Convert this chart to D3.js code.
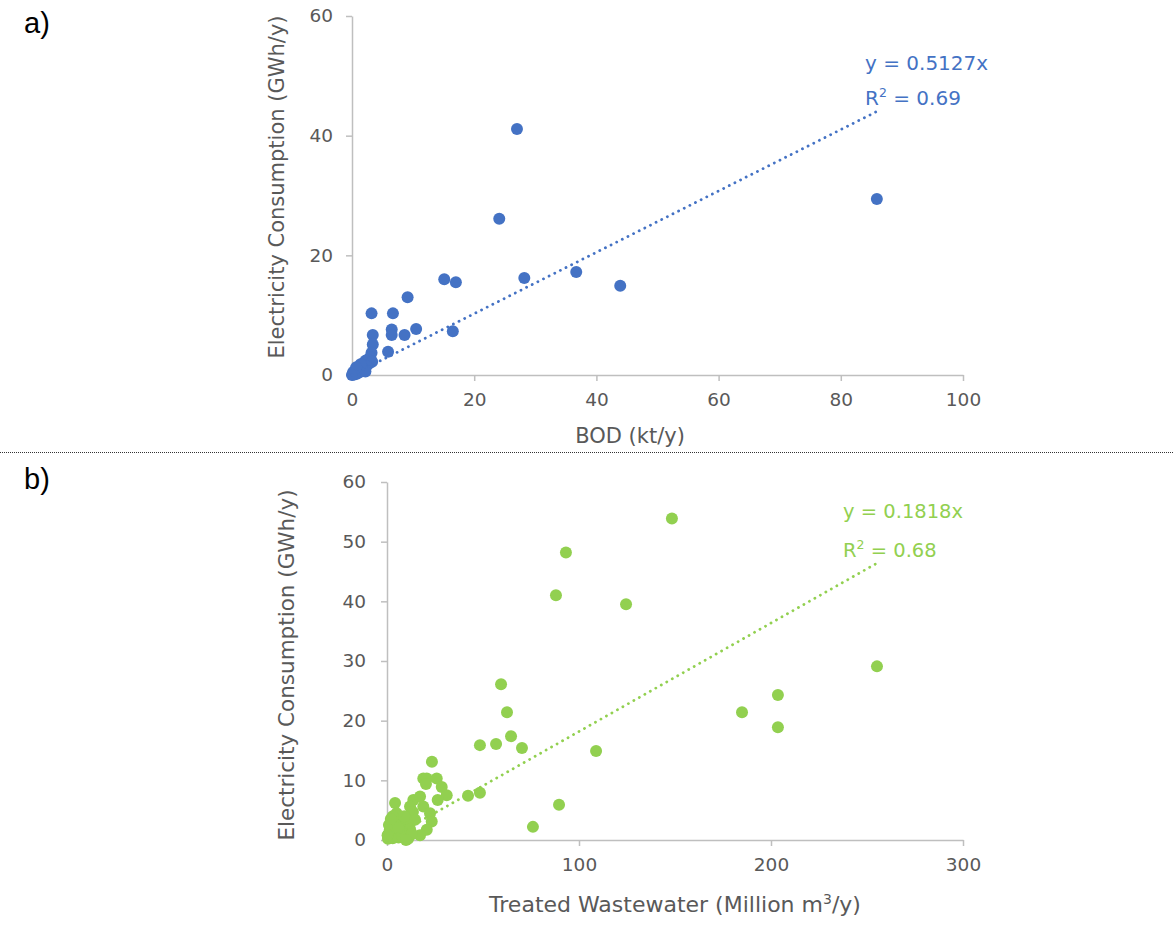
<!DOCTYPE html>
<html><head><meta charset="utf-8">
<script src="https://cdn.jsdelivr.net/npm/d3@7"></script>
<style>
html,body{margin:0;padding:0;background:#fff;}
svg{display:block;font-family:"DejaVu Sans",sans-serif;}
</style></head>
<body>
<script>
// ---- Panel a data: BOD (kt/y) vs Electricity Consumption (GWh/y)
const bodX = [27.0,85.9,24.1,15.1,17.0,28.2,36.7,43.9,9.1,3.2,6.7,10.5,6.5,6.5,8.6,16.5,3.4,3.4,5.9,3.2,
  3.0,2.6,2.2,1.9,2.8,3.3,2.4,1.6,2.0,1.2,1.5,0.9,0.6,0.5,0.3,0.1,0.2,0.8,1.1,0.4,2.2,1.4,0.7,0.0];
const bodY = [41.1,29.4,26.1,16.0,15.5,16.2,17.2,14.9,13.0,10.3,10.3,7.7,7.6,6.7,6.7,7.3,6.7,5.1,3.9,3.7,
  3.0,2.6,2.4,2.0,1.9,2.2,1.5,1.4,0.9,1.0,0.6,0.7,0.9,0.4,0.2,0.1,0.5,0.2,0.4,0.1,0.6,1.8,1.3,0.0];
const bodSlope = 0.5127, bodR2 = "0.69";
const bodXTicks = [0,20,40,60,80,100];
const bodYTicks = [0,20,40,60];

// ---- Panel b data: Treated Wastewater (Million m3/y) vs Electricity Consumption (GWh/y)
const wwX = [148.4,93.2,88.0,124.5,255.2,59.4,203.6,184.9,62.5,203.6,64.6,70.3,108.9,48.4,56.8,23.4,48.4,42.2,89.6,76.0,
  18.9,20.7,25.9,20.3,28.5,31.1,26.4,4.2,13.7,17.2,12.0,18.9,22.4,23.3,20.7,17.2,13.5,14.6,12.0,11.0,
  0.5,1,2,3,4,5,6,7,8,9,10,2.5,1.5,0.8,3.5,4.5,6,8,10,11,12,9,5,1,0.3,7,3,13,6,2,9.9];
const wwY = [53.9,48.2,41.0,39.5,29.1,26.1,24.3,21.4,21.4,18.9,17.4,15.4,14.9,15.9,16.1,13.1,7.9,7.4,5.9,2.2,
  10.3,10.3,10.3,9.4,8.9,7.5,6.7,6.2,6.7,7.3,5.6,5.6,4.5,3.1,1.7,0.8,4.7,3.4,0.8,2.5,
  0.2,0.5,1,0.3,1.5,2.5,3.2,3.6,2.8,2.0,1.2,2.2,1.8,1.0,3.0,0.8,0.4,0.6,3.5,0.2,1.8,4.0,4.5,2.5,0.8,1.5,4.0,1.0,2.0,3.5,0.0];
const wwSlope = 0.1818, wwR2 = "0.68";
const wwXTicks = [0,100,200,300];
const wwYTicks = [0,10,20,30,40,50,60];

const W = 1174, H = 934;
const svg = d3.select("body").append("svg").attr("width", W).attr("height", H);

const axisColor = "#bfbfbf", tickText = "#595959";

function panel(cfg) {
  const x = d3.scaleLinear().domain(cfg.xDomain).range([cfg.left, cfg.right]);
  const y = d3.scaleLinear().domain(cfg.yDomain).range([cfg.bottom, cfg.top]);
  const g = svg.append("g");

  // axes
  const xa = g.append("g").attr("transform", `translate(0,${cfg.bottom})`)
    .call(d3.axisBottom(x).tickValues(cfg.xTicks).tickSize(6).tickPadding(cfg.xPad).tickSizeOuter(0));
  const ya = g.append("g").attr("transform", `translate(${cfg.left},0)`)
    .call(d3.axisLeft(y).tickValues(cfg.yTicks).tickSize(6).tickPadding(cfg.yPad).tickSizeOuter(0));
  [xa, ya].forEach(a => {
    a.select(".domain").attr("stroke", axisColor).attr("stroke-width", 1.5);
    a.selectAll(".tick line").attr("stroke", axisColor).attr("stroke-width", 1.5);
    a.selectAll(".tick text").attr("fill", tickText).style("font-size", "18.5px")
      .style("font-family", "DejaVu Sans, sans-serif");
  });

  // points
  const pts = cfg.xs.map((v, i) => [v, cfg.ys[i]]);
  g.append("g").selectAll("circle").data(pts).join("circle")
    .attr("cx", d => x(d[0])).attr("cy", d => y(d[1])).attr("r", 6)
    .attr("fill", cfg.color);

  // trendline (through origin)
  const xmax = d3.max(cfg.xs);
  g.append("line")
    .attr("x1", x(0)).attr("y1", y(0))
    .attr("x2", x(xmax)).attr("y2", y(cfg.slope * xmax))
    .attr("stroke", cfg.color).attr("stroke-width", 2.8)
    .attr("stroke-linecap", "round").attr("stroke-dasharray", "0.1,6.2");

  // equation label
  const eq = g.append("g").attr("fill", cfg.color).style("font-size", cfg.eqSize);
  eq.append("text").attr("x", cfg.eqX).attr("y", cfg.eqY).text(`y = ${cfg.slope}x`);
  const r = eq.append("text").attr("x", cfg.eqX).attr("y", cfg.eqY + cfg.eqGap);
  r.append("tspan").text("R");
  r.append("tspan").attr("dy", -8).style("font-size", "12.5px").text("2");
  r.append("tspan").attr("dy", 8).text(` = ${cfg.r2}`);

  // axis titles
  const xt = g.append("text").attr("x", cfg.xTitleX).attr("y", cfg.xTitleY)
    .attr("text-anchor", "middle").attr("fill", tickText).style("font-size", cfg.xTitleSize);
  cfg.xTitle(xt);
  g.append("text")
    .attr("transform", `translate(${cfg.yTitleX},${cfg.yTitleY}) rotate(-90)`)
    .attr("text-anchor", "middle").attr("fill", tickText).style("font-size", cfg.yTitleSize)
    .text("Electricity Consumption (GWh/y)");

  // panel letter
  svg.append("text").attr("x", 24).attr("y", cfg.letterY)
    .style("font-family", "Liberation Sans, Arial, sans-serif").style("font-size", "29px")
    .attr("fill", "#000").text(cfg.letter);
}

panel({
  xs: bodX, ys: bodY, slope: bodSlope, r2: bodR2, color: "#4472c4",
  xDomain: [0, 100], yDomain: [0, 60], xTicks: bodXTicks, yTicks: bodYTicks,
  left: 352, right: 963, top: 16, bottom: 375, xPad: 12, yPad: 13,
  eqX: 865, eqY: 70, eqGap: 35, eqSize: "20px",
  xTitleX: 630, xTitleY: 443, xTitleSize: "21px",
  xTitle: t => t.text("BOD (kt/y)"),
  yTitleX: 284, yTitleY: 187, yTitleSize: "21px",
  letter: "a)", letterY: 33
});

panel({
  xs: wwX, ys: wwY, slope: wwSlope, r2: wwR2, color: "#92d050",
  xDomain: [0, 300], yDomain: [0, 60], xTicks: wwXTicks, yTicks: wwYTicks,
  left: 387, right: 963, top: 482, bottom: 840, xPad: 12, yPad: 15,
  eqX: 843, eqY: 518, eqGap: 39, eqSize: "19.5px",
  xTitleX: 675, xTitleY: 912, xTitleSize: "22px",
  xTitle: t => {
    t.append("tspan").text("Treated Wastewater (Million m");
    t.append("tspan").attr("dy", -8).style("font-size", "14px").text("3");
    t.append("tspan").attr("dy", 8).text("/y)");
  },
  yTitleX: 294, yTitleY: 665, yTitleSize: "21.5px",
  letter: "b)", letterY: 489
});

// dotted separator
svg.append("line").attr("x1", 0).attr("x2", W).attr("y1", 452.5).attr("y2", 452.5)
  .attr("stroke", "#333").attr("stroke-width", 1).attr("stroke-dasharray", "1,1");
</script>
</body></html>
